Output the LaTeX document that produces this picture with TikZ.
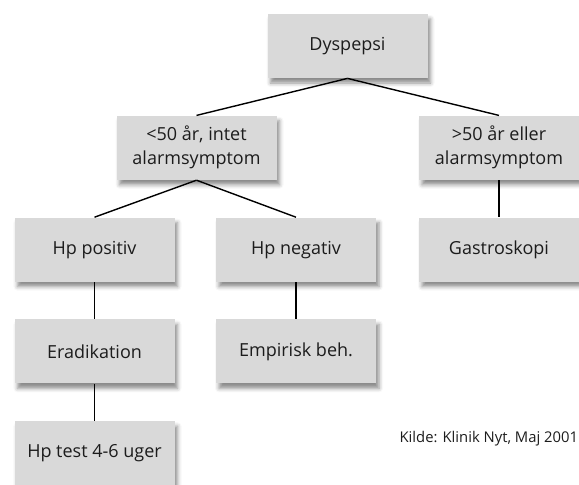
\documentclass[tikz,border=0pt]{standalone}
\usepackage{fontspec}
\setmainfont{Open Sans}
\usepackage{tikz}
\usetikzlibrary{positioning,shadows.blur}
\definecolor{boxgray}{RGB}{217,217,217}
\definecolor{txtgray}{RGB}{28,28,28}
\tikzset{
  stepbox/.style={rectangle, fill=boxgray, minimum width=80pt, minimum height=32pt,
                  inner sep=2pt, align=center, text=txtgray,
                  font=\fontsize{9}{12}\selectfont,
                  blur shadow={shadow xshift=1.5pt, shadow yshift=-2.5pt,
                               shadow blur radius=2pt, shadow opacity=45}}, % soft drop shadow
  link/.style={line width=0.7pt},
  source/.style={font=\fontsize{7.4}{9}\selectfont, text=txtgray, inner sep=0pt, anchor=base east},
}

\begin{document}
\begin{tikzpicture}[node distance=18.5pt]
  \useasboundingbox (0,0) rectangle (289.5pt,-242pt);
  \node[stepbox] (dysp) at (173.75pt,-23pt) {Dyspepsi};
  \node[stepbox] (under) [below=of dysp, xshift=-75.5pt] {<50 år, intet\\alarmsymptom};
  \node[stepbox] (over) [below=of dysp, xshift=75.75pt] {>50 år eller\\alarmsymptom};
  \node[stepbox] (hppos) [below=of under, xshift=-51pt] {Hp positiv};
  \node[stepbox] (hpneg) [below=of under, xshift=49.75pt] {Hp negativ};
  \node[stepbox] (gastro) [below=of over] {Gastroskopi};
  \node[stepbox] (erad) [below=of hppos] {Eradikation};
  \node[stepbox] (empir) [below=of hpneg] {Empirisk beh.};
  \node[stepbox] (hptest) [below=of erad] {Hp test 4-6 uger};
  \node[source] (kilde) at (289.2pt,-221pt) {Kilde: Klinik Nyt, Maj 2001};

  \draw[link] (dysp.south) -- (under.north);
  \draw[link] (dysp.south) -- (over.north);
  \draw[link] (under.south) -- (hppos.north);
  \draw[link] (under.south) -- (hpneg.north);
  \draw[link] (over.south) -- (gastro.north);
  \draw[link] (hppos.south) -- (erad.north);
  \draw[link] (hpneg.south) -- (empir.north);
  \draw[link] (erad.south) -- (hptest.north);
\end{tikzpicture}
\end{document}
